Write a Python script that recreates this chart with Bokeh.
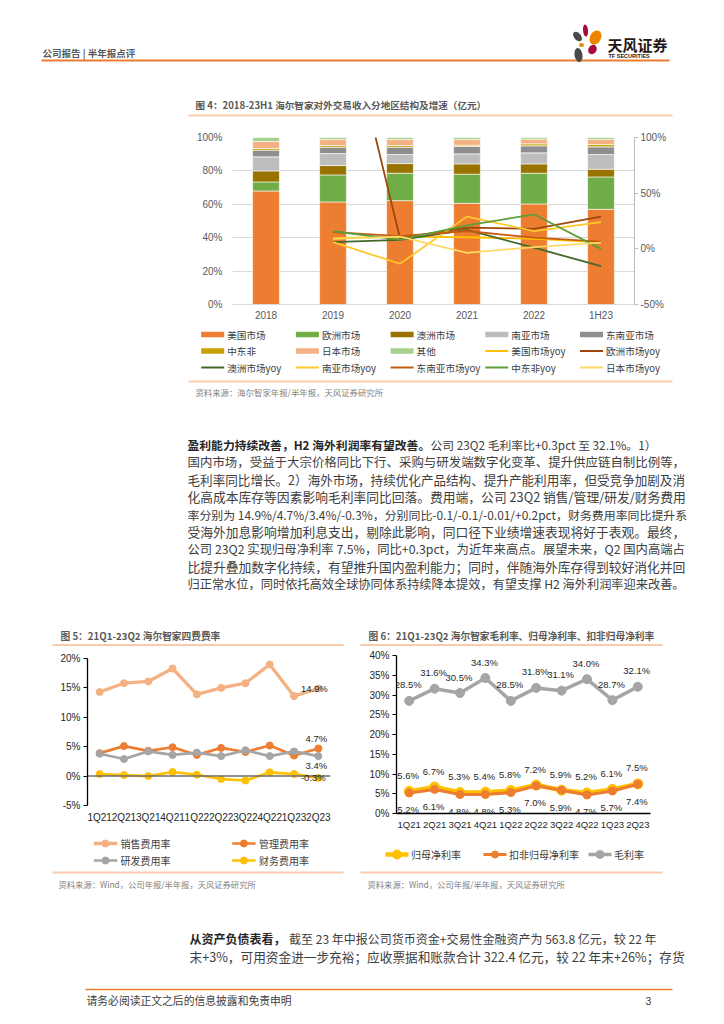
from bokeh.plotting import figure
from bokeh.models import (Range1d, FactorRange, LinearAxis, FixedTicker, PrintfTickFormatter,
                          Span, ColumnDataSource, LabelSet)
from bokeh.layouts import column, row
from bokeh.embed import file_html
from bokeh.resources import INLINE
from bokeh.core.properties import value

CJK = "Noto Sans CJK SC"
NUM = "Liberation Sans"
ORANGE = "#ED7D31"
PEACH = "#F8CBAD"
TXT = "#404040"
GREY_T = "#595959"
W = 708

# ---------------- data: figure 4 ----------------
years = ["2018", "2019", "2020", "2021", "2022", "1H23"]
share_us = [68.0, 61.4, 62.2, 60.6, 60.2, 57.0]
share_eu = [5.4, 16.2, 16.4, 17.4, 18.4, 19.4]
share_au = [6.6, 5.6, 5.8, 6.2, 5.6, 4.6]
share_sa = [8.4, 7.2, 5.4, 6.0, 6.6, 8.8]
share_sea = [4.0, 3.8, 4.4, 4.4, 4.2, 4.6]
share_mea = [1.0, 1.0, 1.0, 0.8, 1.2, 1.4]
share_jp = [4.2, 3.6, 3.6, 3.4, 2.8, 3.0]
share_other = [2.4, 1.2, 1.2, 1.2, 1.0, 1.2]
bar_names = ["美国市场", "欧洲市场", "澳洲市场", "南亚市场", "东南亚市场", "中东非", "日本市场", "其他"]
bar_colors = ["#ED7D31", "#70AD47", "#997300", "#BDBDBD", "#8E8E8E", "#C9A000", "#F4B183", "#A9D18E"]

yoy_years = ["2019", "2020", "2021", "2022", "1H23"]
yoy_us = [9.5, 11.0, 10.4, 9.0, 6.0]
yoy_eu = [258.0, 9.5, 19.0, 18.0, 29.0]
yoy_au = [6.0, 8.0, 17.0, 1.0, -15.5]
yoy_sa = [6.0, -13.4, 29.0, 16.0, 24.0]
yoy_sea = [15.0, 11.5, 16.0, 10.0, 6.5]
yoy_mea = [15.8, 8.3, 21.0, 31.0, 0.0]
yoy_jp = [9.0, 11.0, -3.6, 1.5, 5.5]
yoy_names = ["美国市场yoy", "欧洲市场yoy", "澳洲市场yoy", "南亚市场yoy", "东南亚市场yoy", "中东非yoy", "日本市场yoy"]
yoy_colors = ["#FFC000", "#9E480E", "#43682B", "#FFC72C", "#C55A11", "#5E9E3A", "#FFD966"]

# ---------------- data: figure 5 ----------------
quarters = ["1Q21", "2Q21", "3Q21", "4Q21", "1Q22", "2Q22", "3Q22", "4Q22", "1Q23", "2Q23"]
sales_rate = [14.3, 15.8, 16.1, 18.3, 13.9, 15.0, 15.8, 19.0, 13.6, 14.9]
admin_rate = [3.9, 5.1, 4.3, 4.9, 3.6, 4.8, 4.1, 5.2, 3.5, 4.7]
rd_rate = [3.8, 2.9, 4.2, 3.6, 4.0, 3.4, 4.4, 3.4, 4.2, 3.4]
fin_rate = [0.35, 0.17, 0.0, 0.7, 0.23, -0.5, -0.75, 0.64, 0.35, -0.3]
fee_names = ["销售费用率", "管理费用率", "研发费用率", "财务费用率"]
fee_colors = ["#F4B183", "#ED7D31", "#A5A5A5", "#FFC000"]
fee_widths = [3.3, 2.7, 2.7, 2.7]

# ---------------- data: figure 6 ----------------
gross_margin = [28.5, 31.6, 30.5, 34.3, 28.5, 31.8, 31.1, 34.0, 28.7, 32.1]
net_margin = [5.6, 6.7, 5.3, 5.4, 5.8, 7.2, 5.9, 5.2, 6.1, 7.5]
net_margin_ex = [5.2, 6.1, 4.8, 4.8, 5.3, 7.0, 5.9, 4.7, 5.7, 7.4]
margin_names = ["归母净利率", "扣非归母净利率", "毛利率"]
margin_colors = ["#FFC000", "#ED7D31", "#A5A5A5"]
margin_widths = [4.5, 3.0, 3.5]
margin_sizes = [10, 8, 9]


def canvas(y0, y1):
    p = figure(width=W, height=int(round(y1 - y0)), x_range=Range1d(0, W), y_range=Range1d(y1, y0),
               x_axis_type=None, y_axis_type=None, output_backend="svg", toolbar_location=None,
               min_border=0, min_border_left=0, min_border_right=0, min_border_top=0, min_border_bottom=0,
               outline_line_color=None, background_fill_color="white", border_fill_color="white")
    p.grid.visible = False
    return p


def txt(p, x, y, s, size, color=TXT, bold=False, align="left", font=CJK):
    p.text(x=[x], y=[y], text=[s], text_font=value(font), text_font_size=value(f"{size:.2f}px"),
           text_color=color, text_align=align, text_baseline="middle",
           text_font_style="bold" if bold else "normal")


def hline(p, x0, x1, y, color, w):
    p.segment(x0=[x0], y0=[y], x1=[x1], y1=[y], line_color=color, line_width=w)


def key_bar(p, x0, y, color, label, size):
    p.quad(left=[x0], right=[x0 + 23], top=[y - 2.8], bottom=[y + 2.8], fill_color=color, line_color=None)
    txt(p, x0 + 26, y, label, size)


def key_line(p, x0, y, color, width, label, size, msize=None, gw=23, gap=3):
    p.segment(x0=[x0], y0=[y], x1=[x0 + gw], y1=[y], line_color=color, line_width=width)
    if msize:
        p.scatter(x=[x0 + gw / 2], y=[y], size=msize, marker="circle", fill_color=color, line_color=color)
    txt(p, x0 + gw + gap, y, label, size)


def em_width(s):
    w = 0.0
    for ch in s:
        if ord(ch) > 0x2E80:
            w += 0.94
        elif ch in "0123456789+":
            w += 0.53
        elif ch in ".,":
            w += 0.26
        elif ch == "%":
            w += 0.82
        elif ch in "/-":
            w += 0.34
        elif ch == " ":
            w += 0.22
        elif ch in "QH":
            w += 0.70
        elif ch in "t":
            w += 0.33
        else:
            w += 0.52
    return w


def para_line(p, x, y, s, target=468, cap=13.0):
    txt(p, x, y, s, min(cap, target / em_width(s)), TXT)


# ================= header strip (y 0..120) =================
head = canvas(0, 120)
txt(head, 42, 52, "公司报告 | 半年报点评", 9.5, GREY_T, bold=True)
hline(head, 41, 669, 60, ORANGE, 2)
head.ellipse(x=[577, 585, 595, 581, 592, 578], y=[36, 30, 37, 44.5, 49, 54.5],
             width=[7, 5, 11, 5, 8, 8], height=[11, 12, 15, 4, 10, 14],
             angle=[0.7, 0.1, -0.5, 0.0, -0.6, 0.15],
             fill_color=["#4A4A4A", "#A50D38", "#F08300", "#F08300", "#A50D38", "#4A4A4A"], line_color=None)
txt(head, 607, 43.5, "天风证券", 15, "#231815", bold=True)
txt(head, 608, 55, "TF SECURITIES", 5.5, "#231815", bold=True, font=NUM)
txt(head, 195, 104.5, "图 4：2018-23H1 海尔智家对外交易收入分地区结构及增速（亿元）", 9.6, GREY_T, bold=True)
hline(head, 188, 672, 115, PEACH, 2)

# ================= figure 4 (y 120..326) =================
fig4 = figure(width=W, height=206, x_range=FactorRange(*years), y_range=Range1d(0, 100),
              output_backend="svg", toolbar_location=None,
              min_border_left=232, min_border_right=74, min_border_top=17, min_border_bottom=22,
              outline_line_color=None, background_fill_color="white", border_fill_color="white")
src4 = ColumnDataSource(dict(year=years, us=share_us, eu=share_eu, au=share_au, sa=share_sa,
                             sea=share_sea, mea=share_mea, jp=share_jp, other=share_other))
stack_keys = ["us", "eu", "au", "sa", "sea", "mea", "jp", "other"]
fig4.vbar_stack(stack_keys, x="year", width=0.4, fill_color=bar_colors, line_color="white",
                line_width=0.6, source=src4)
fig4.extra_y_ranges = {"yoy": Range1d(-50, 100)}
yoy_series = [yoy_us, yoy_eu, yoy_au, yoy_sa, yoy_sea, yoy_mea, yoy_jp]
for vals, col in zip(yoy_series, yoy_colors):
    fig4.line(x=yoy_years, y=vals, y_range_name="yoy", line_color=col, line_width=1.8)

fig4.xgrid.grid_line_color = None
fig4.ygrid.grid_line_color = "#D9D9D9"
fig4.yaxis.ticker = FixedTicker(ticks=[0, 20, 40, 60, 80, 100])
fig4.yaxis.formatter = PrintfTickFormatter(format="%d%%")
fig4.yaxis.axis_line_color = None
fig4.yaxis.major_tick_line_color = None
fig4.yaxis.major_tick_out = 0
fig4.yaxis.major_tick_in = 0
fig4.yaxis.minor_tick_line_color = None
fig4.yaxis.major_label_standoff = 10
fig4.yaxis.major_label_text_font = NUM
fig4.yaxis.major_label_text_font_size = "10px"
fig4.yaxis.major_label_text_color = GREY_T
fig4.xaxis.axis_line_color = "#D9D9D9"
fig4.xaxis.major_tick_line_color = None
fig4.xaxis.major_tick_out = 0
fig4.xaxis.major_tick_in = 0
fig4.xaxis.major_label_standoff = 5
fig4.xaxis.major_label_text_font = NUM
fig4.xaxis.major_label_text_font_size = "10px"
fig4.xaxis.major_label_text_color = GREY_T
raxis = LinearAxis(y_range_name="yoy", ticker=FixedTicker(ticks=[-50, 0, 50, 100]),
                   formatter=PrintfTickFormatter(format="%d%%"),
                   axis_line_color="#BFBFBF", major_tick_line_color="#BFBFBF",
                   major_tick_out=4, major_tick_in=0, minor_tick_line_color=None,
                   major_label_standoff=2, major_label_text_font=NUM,
                   major_label_text_font_size="10px", major_label_text_color=GREY_T)
fig4.add_layout(raxis, "right")

# ================= middle strip (y 326..648) =================
mid = canvas(326, 648)
# key of figure 4: 5 columns, row-major
for i, (n, c) in enumerate(zip(bar_names, bar_colors)):
    key_bar(mid, 200.7 + (i % 5) * 94.7, 334 + (i // 5) * 16.5, c, n, 9.6)
for j, (n, c) in enumerate(zip(yoy_names, yoy_colors)):
    i = j + len(bar_names)
    key_line(mid, 200.7 + (i % 5) * 94.7, 334 + (i // 5) * 16.5, c, 1.8, n, 9.6)

hline(mid, 188, 672, 381, PEACH, 2)
txt(mid, 195, 391, "资料来源：海尔智家年报/半年报，天风证券研究所", 8.4, "#7F7F7F")
PX0, PX1 = 187, 656
para_y0, para_dy = 444, 17.4
txt(mid, PX0, para_y0, "盈利能力持续改善，H2 海外利润率有望改善。", 11.8, "#262626", bold=True)
txt(mid, PX1, para_y0, "公司 23Q2 毛利率比+0.3pct 至 32.1%。1）", 11.8, TXT, align="right")
para_lines = [
    "国内市场，受益于大宗价格同比下行、采购与研发端数字化变革、提升供应链自制比例等，",
    "毛利率同比增长。2）海外市场，持续优化产品结构、提升产能利用率，但受竞争加剧及消",
    "化高成本库存等因素影响毛利率同比回落。费用端，公司 23Q2 销售/管理/研发/财务费用",
    "率分别为 14.9%/4.7%/3.4%/-0.3%，分别同比-0.1/-0.1/-0.01/+0.2pct，财务费用率同比提升系",
    "受海外加息影响增加利息支出，剔除此影响，同口径下业绩增速表现将好于表观。最终，",
    "公司 23Q2 实现归母净利率 7.5%，同比+0.3pct，为近年来高点。展望未来，Q2 国内高端占",
    "比提升叠加数字化持续，有望推升国内盈利能力；同时，伴随海外库存得到较好消化并回",
    "归正常水位，同时依托高效全球协同体系持续降本提效，有望支撑 H2 海外利润率迎来改善。",
]
for i, s in enumerate(para_lines):
    para_line(mid, PX0, para_y0 + para_dy * (i + 1), s)
txt(mid, 60, 635, "图 5：21Q1-23Q2 海尔智家四费费率", 9.7, GREY_T, bold=True)
txt(mid, 368, 635, "图 6：21Q1-23Q2 海尔智家毛利率、归母净利率、扣非归母净利率", 9.7, GREY_T, bold=True)
hline(mid, 52, 343, 644.5, PEACH, 2)
hline(mid, 360, 662, 644.5, PEACH, 2)

# ================= figure 5 (x 0..356, y 648..832) =================
fig5 = figure(width=356, height=184, x_range=FactorRange(*quarters), y_range=Range1d(-5, 20),
              output_backend="svg", toolbar_location=None,
              min_border_left=87, min_border_right=26, min_border_top=10, min_border_bottom=27,
              outline_line_color=None, background_fill_color="white", border_fill_color="white")
fig5.grid.grid_line_color = None
fig5.add_layout(Span(location=0, dimension="width", line_color="#6E6E6E", line_width=1.5))
fee_series = [sales_rate, admin_rate, rd_rate, fin_rate]
for vals, col, w in zip(fee_series, fee_colors, fee_widths):
    fig5.line(x=quarters, y=vals, line_color=col, line_width=w)
    fig5.scatter(x=quarters, y=vals, marker="circle", size=7, fill_color=col, line_color=col)
fig5.yaxis.ticker = FixedTicker(ticks=[-5, 0, 5, 10, 15, 20])
fig5.yaxis.formatter = PrintfTickFormatter(format="%d%%")
fig5.yaxis.axis_line_color = "#000000"
fig5.yaxis.axis_line_width = 1.3
fig5.yaxis.major_tick_line_color = "#000000"
fig5.yaxis.major_tick_out = 4
fig5.yaxis.major_tick_in = 0
fig5.yaxis.minor_tick_line_color = None
fig5.yaxis.major_label_standoff = 3
fig5.yaxis.major_label_text_font = NUM
fig5.yaxis.major_label_text_font_size = "10px"
fig5.yaxis.major_label_text_color = "#262626"
fig5.xaxis.axis_line_color = None
fig5.xaxis.major_tick_line_color = None
fig5.xaxis.major_tick_out = 0
fig5.xaxis.major_tick_in = 0
fig5.xaxis.major_label_standoff = 6
fig5.xaxis.major_label_text_font = NUM
fig5.xaxis.major_label_text_font_size = "10px"
fig5.xaxis.major_label_text_color = "#262626"
for vals, yoff, xoff in zip(fee_series, [0, 10, -9, 0], [-4, -2, -2, -5]):
    s = ColumnDataSource(dict(x=[quarters[-1]], y=[vals[-1]], t=[f"{vals[-1]:.1f}%"]))
    fig5.add_layout(LabelSet(x="x", y="y", text="t", source=s, y_offset=yoff, x_offset=xoff,
                             text_align="center", text_baseline="middle", text_font=value(NUM),
                             text_font_size=value("9.5px"), text_color="#262626"))

# ================= figure 6 (x 356..708, y 648..832) =================
fig6 = figure(width=352, height=184, x_range=FactorRange(*quarters), y_range=Range1d(0, 40),
              output_backend="svg", toolbar_location=None,
              min_border_left=40, min_border_right=58, min_border_top=7, min_border_bottom=19,
              outline_line_color=None, background_fill_color="white", border_fill_color="white")
fig6.grid.grid_line_color = None
margin_series = [net_margin, net_margin_ex, gross_margin]
for vals, col, w, sz in zip(margin_series, margin_colors, margin_widths, margin_sizes):
    fig6.line(x=quarters, y=vals, line_color=col, line_width=w)
    fig6.scatter(x=quarters, y=vals, marker="circle", size=sz, fill_color=col, line_color=col)
fig6.yaxis.ticker = FixedTicker(ticks=[0, 5, 10, 15, 20, 25, 30, 35, 40])
fig6.yaxis.formatter = PrintfTickFormatter(format="%d%%")
fig6.yaxis.axis_line_color = "#000000"
fig6.yaxis.axis_line_width = 1.3
fig6.yaxis.major_tick_line_color = "#000000"
fig6.yaxis.major_tick_out = 4
fig6.yaxis.major_tick_in = 0
fig6.yaxis.minor_tick_line_color = None
fig6.yaxis.major_label_standoff = 3
fig6.yaxis.major_label_text_font = NUM
fig6.yaxis.major_label_text_font_size = "10px"
fig6.yaxis.major_label_text_color = "#262626"
fig6.xaxis.axis_line_color = "#000000"
fig6.xaxis.axis_line_width = 1.3
fig6.xaxis.major_tick_line_color = None
fig6.xaxis.major_tick_out = 0
fig6.xaxis.major_tick_in = 0
fig6.xaxis.major_label_standoff = 5
fig6.xaxis.major_label_text_font = NUM
fig6.xaxis.major_label_text_font_size = "9.5px"
fig6.xaxis.major_label_text_color = "#262626"
for vals, yoff in zip([gross_margin, net_margin, net_margin_ex], [16, 16, -17]):
    s = ColumnDataSource(dict(x=quarters, y=vals, t=[f"{v:.1f}%" for v in vals]))
    fig6.add_layout(LabelSet(x="x", y="y", text="t", source=s, y_offset=yoff, x_offset=-1,
                             text_align="center", text_baseline="middle", text_font=value(NUM),
                             text_font_size=value("9.5px"), text_color="#262626"))

# ================= bottom strip (y 832..1008) =================
bot = canvas(832, 1008)
for i, (n, c, w) in enumerate(zip(fee_names, fee_colors, fee_widths)):
    key_line(bot, 93.3 + (i % 2) * 138.4, 843 + (i // 2) * 17, c, w, n, 10, msize=7, gw=23.4, gap=3.3)
for x0, n, c, w, sz in zip([385, 483, 588], margin_names, margin_colors, margin_widths, margin_sizes):
    key_line(bot, x0, 854, c, w, n, 10, msize=sz - 1, gw=23, gap=2.5)

hline(bot, 52, 343, 872, PEACH, 2)
hline(bot, 360, 662, 872, PEACH, 2)
txt(bot, 58, 883, "资料来源：Wind，公司年报/半年报，天风证券研究所", 8.3, "#7F7F7F")
txt(bot, 367, 883, "资料来源：Wind，公司年报/半年报，天风证券研究所", 8.3, "#7F7F7F")
txt(bot, 189, 938, "从资产负债表看，", 12.0, "#262626", bold=True)
txt(bot, PX1, 938, "截至 23 年中报公司货币资金+交易性金融资产为 563.8 亿元，较 22 年", 12.0, TXT, align="right")
para_line(bot, 189, 956, "末+3%，可用资金进一步充裕；应收票据和账款合计 322.4 亿元，较 22 年末+26%；存货",
          target=466)
hline(bot, 85, 672, 989, ORANGE, 1.5)
txt(bot, 86, 999.5, "请务必阅读正文之后的信息披露和免责申明", 10.8, TXT)
txt(bot, 645, 1000, "3", 10.5, TXT, font=NUM)

page = column(row(head), row(fig4), row(mid), row(column(fig5), column(fig6)), row(bot))
open("out.html", "w").write(file_html(page, INLINE))
